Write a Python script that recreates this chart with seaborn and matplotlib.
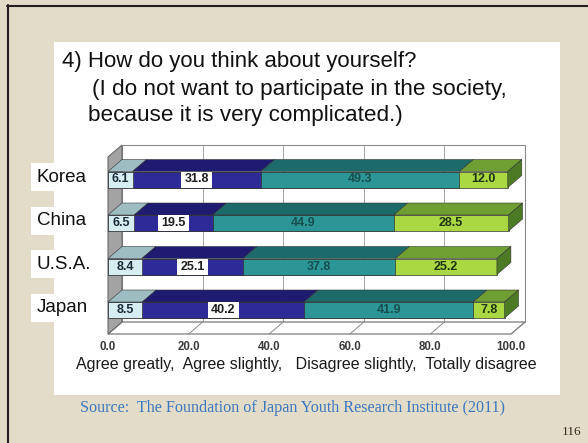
import numpy as np
import pandas as pd
import matplotlib
matplotlib.use("Agg")
import matplotlib.pyplot as plt
import seaborn as sns
from matplotlib.patches import Polygon, Rectangle
from matplotlib.lines import Line2D
from matplotlib import transforms

# Survey answers (percent) per country
countries = ["Korea", "China", "U.S.A.", "Japan"]
agree_greatly = [6.1, 6.5, 8.4, 8.5]
agree_slightly = [31.8, 19.5, 25.1, 40.2]
disagree_slightly = [49.3, 44.9, 37.8, 41.9]
totally_disagree = [12.0, 28.5, 25.2, 7.8]
answers = ["Agree greatly", "Agree slightly", "Disagree slightly", "Totally disagree"]
x_ticks = [0, 20, 40, 60, 80, 100]

front_colors = ["#d6eef2", "#2e2b98", "#2c9696", "#a9d842"]
top_colors = ["#9dbdc3", "#1f1b70", "#1c6a6a", "#6f9f33"]
side_color = "#4d7a24"
text_colors = ["#1c2b3a", "#1e1e1e", "#16504e", "#1f3410"]

sns.set_theme(style="white")
plt.rcParams["font.family"] = ["Liberation Sans", "DejaVu Sans"]

W, H = 588, 443
fig = plt.figure(figsize=(W / 100, H / 100), dpi=100)
fig.patch.set_facecolor("#e3dcc8")


def fx(x):
    return x / W


def fy(y):
    return 1 - y / H


# slide frame and white content panel
fig.add_artist(Rectangle((fx(54), fy(395)), (560 - 54) / W, (395 - 42) / H,
                         transform=fig.transFigure, facecolor="white",
                         edgecolor="none", zorder=0))
fig.add_artist(Line2D([fx(7), 1], [fy(6), fy(6)], color="#231f20", lw=1.5,
                      transform=fig.transFigure))
fig.add_artist(Line2D([fx(7.5), fx(7.5)], [0, fy(5)], color="#231f20", lw=1.5,
                      transform=fig.transFigure))

# title
fig.text(fx(62), fy(62), "4) How do you think about yourself?", fontsize=16,
         va="center", ha="left", color="#111111")
fig.text(fx(92), fy(89), "(I do not want to participate in the society,",
         fontsize=16.2, va="center", ha="left", color="#111111")
fig.text(fx(88), fy(115), "because it is very complicated.)", fontsize=16.2,
         va="center", ha="left", color="#111111")

# long-form table with segment start/end for stacking
segments = np.array([agree_greatly, agree_slightly, disagree_slightly, totally_disagree])
ends = np.cumsum(segments, axis=0)
starts = ends - segments
df = pd.DataFrame([
    dict(country=c, answer=answers[k], value=segments[k, i],
         start=starts[k, i], end=ends[k, i], row=i, k=k)
    for k in range(len(answers)) for i, c in enumerate(countries)
])

# plotting area (pixel layout)
x_left, x_right, y_top, y_floor = 108, 511, 145, 334
row0, row_step = 179.5, 43.5
ax = fig.add_axes([fx(x_left), fy(y_floor), (x_right - x_left) / W, (y_floor - y_top) / H])

bar_h = 16 / row_step
for k in reversed(range(len(answers))):
    sub = df[df["answer"] == answers[k]]
    sns.barplot(data=sub, x="end", y="country", order=countries, orient="h",
                color=front_colors[k], saturation=1, width=bar_h, errorbar=None,
                edgecolor="#333333", linewidth=0.5, zorder=3, ax=ax)

ax.set_xlim(0, 100)
ylo = (y_floor - row0) / row_step
yhi = (y_top - row0) / row_step
ax.set_ylim(ylo, yhi)
ax.patch.set_visible(False)
for s in ax.spines.values():
    s.set_visible(False)
ax.set_xlabel("")
ax.set_ylabel("")
ax.set_yticks([])
ax.set_xticks(x_ticks)
ax.set_xticklabels([f"{t:.1f}" for t in x_ticks], fontsize=8.3, fontweight="bold",
                   color="#3a3a3a")
ax.tick_params(axis="x", length=0, pad=5)

# depth offsets in data units
dx = 14 * 100 / (x_right - x_left)
dy = 12 / row_step

# back wall, grid, floor and left wall
wall_bottom = ylo - dy
ax.add_patch(Rectangle((dx, yhi), 100, wall_bottom - yhi, facecolor="white",
                       edgecolor="#8a8a8a", lw=0.8, zorder=0.5, clip_on=False))
for t in x_ticks[1:-1]:
    ax.plot([t + dx, t + dx], [yhi, wall_bottom], color="#a8a8a8", lw=0.7,
            zorder=0.6, clip_on=False)
ax.add_patch(Polygon([(0, ylo), (100, ylo), (100 + dx, wall_bottom), (dx, wall_bottom)],
                     closed=True, facecolor="white", edgecolor="#6a6a6a", lw=0.8,
                     zorder=0.7, clip_on=False))
for t in x_ticks:
    ax.plot([t, t + dx], [ylo, wall_bottom], color="#8a8a8a", lw=0.7,
            zorder=0.75, clip_on=False)
ax.add_patch(Polygon([(0, yhi + dy), (dx, yhi), (dx, wall_bottom), (0, ylo)],
                     closed=True, facecolor="#a3a3a3", edgecolor="#6a6a6a", lw=0.8,
                     zorder=0.8, clip_on=False))

# 3D top faces, end caps and value labels
for _, r in df.iterrows():
    i, k = r["row"], r["k"]
    top = i - bar_h / 2
    bot = i + bar_h / 2
    x0, x1 = r["start"], r["end"]
    ax.add_patch(Polygon([(x0, top), (x1, top), (x1 + dx, top - dy), (x0 + dx, top - dy)],
                         closed=True, facecolor=top_colors[k], edgecolor="#333333",
                         lw=0.4, zorder=3, clip_on=False))
    if k == len(answers) - 1:
        ax.add_patch(Polygon([(x1, top), (x1, bot), (x1 + dx, bot - dy), (x1 + dx, top - dy)],
                             closed=True, facecolor=side_color, edgecolor="#333333",
                             lw=0.4, zorder=3, clip_on=False))
    cx = (x0 + x1) / 2
    if k == 1:
        ax.add_patch(Rectangle((cx - 3.8, top), 7.6, bar_h, facecolor="white",
                               edgecolor="none", zorder=4))
    ax.text(cx, i, f"{r['value']:.1f}", ha="center", va="center", fontsize=9,
            fontweight="bold", color=text_colors[k], zorder=5)

# country labels on white tabs
lab_tr = transforms.blended_transform_factory(fig.transFigure, ax.transData)
for i, c in enumerate(countries):
    ax.text(fx(37), i - 0.05, c, transform=lab_tr, fontsize=13.5, ha="left",
            va="center", color="#111111", zorder=6, clip_on=False,
            bbox=dict(facecolor="white", edgecolor="none", boxstyle="square,pad=0.3"))

# answer legend line
fig.text(fx(306), fy(364), ",  ".join(answers[:2]) + ",   " + ",  ".join(answers[2:]),
         fontsize=11.5, ha="center", va="center", color="#1a1a1a")

# source and page number
fig.text(fx(293), fy(408),
         "Source:  The Foundation of Japan Youth Research Institute (2011)",
         fontsize=11.6, ha="center", va="center", color="#3c78c0",
         family=["Liberation Serif", "DejaVu Serif"])
fig.text(fx(572), fy(432), "116", fontsize=9.5, ha="center", va="center",
         color="#3b2a1e", family=["Liberation Serif", "DejaVu Serif"])

fig.savefig("out.png", dpi=100)
